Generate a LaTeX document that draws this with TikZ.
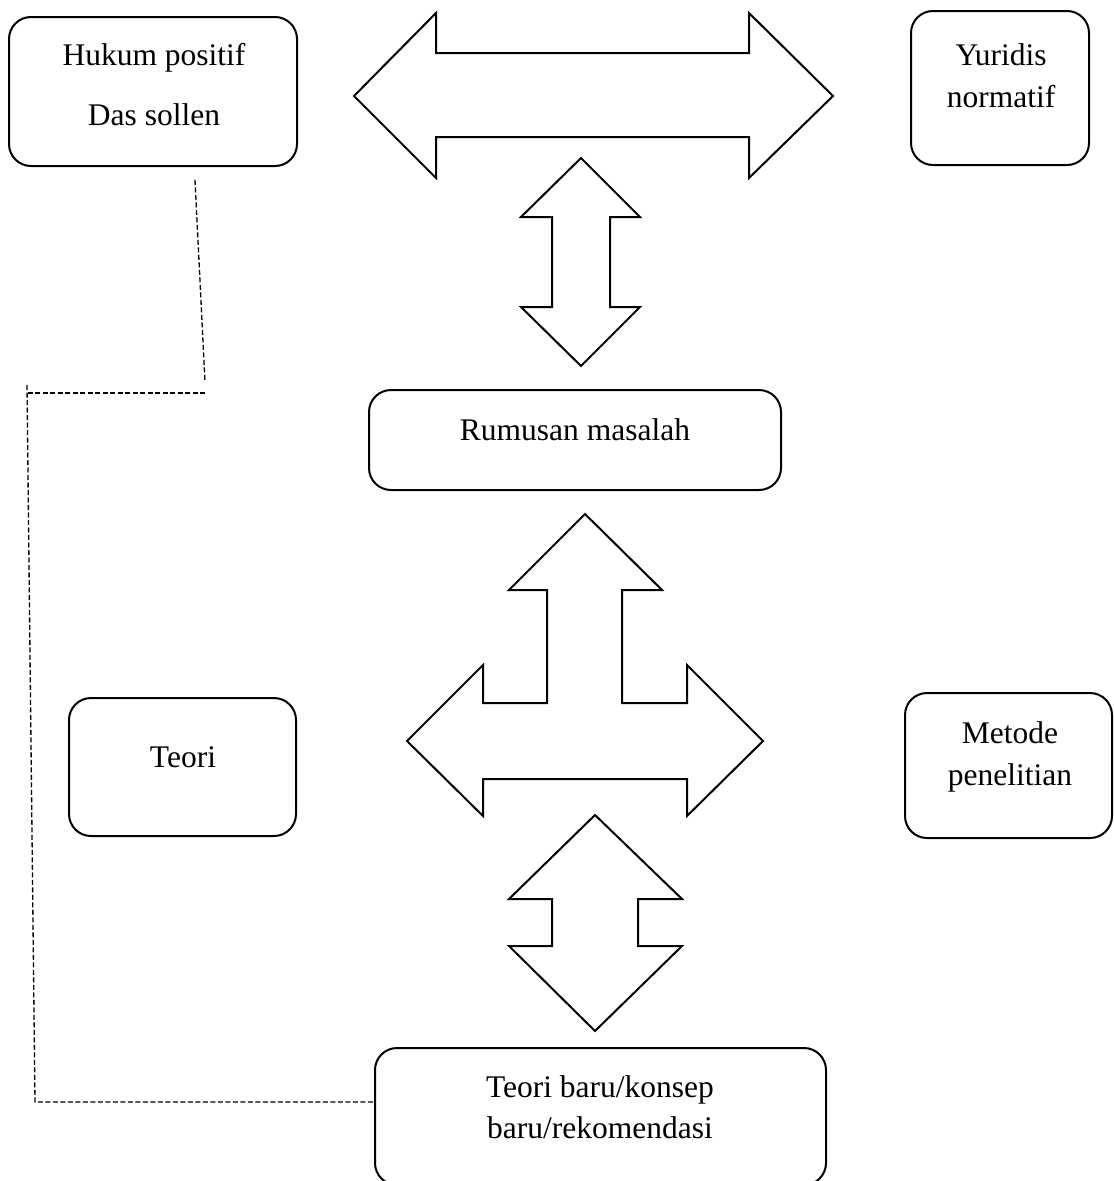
\documentclass[tikz,border=0pt]{standalone}
\usepackage{fontspec}
\setmainfont{Liberation Serif}
\usepackage{tikz}
\usetikzlibrary{calc}

\begin{document}
\begin{tikzpicture}[x=1pt,y=-1pt,line join=miter,
		box/.style={draw,line width=2pt,rounded corners=22pt,inner sep=0pt},
		blockarrow/.style={draw,line width=2pt,line join=miter},
		lbl/.style={font=\fontsize{31.5}{42}\selectfont,align=center,anchor=base,inner sep=0pt},
		guide/.style={line width=1.3pt,dash pattern=on 5pt off 2.5pt}]
			\useasboundingbox (0,0) rectangle (1114,1181);
			% boxes
			\node[box,minimum width=288pt,minimum height=149pt] (hukum) at (153,91.5) {};
			\node[box,minimum width=178pt,minimum height=154pt] (yuridis) at (1000,88) {};
			\node[box,minimum width=412pt,minimum height=100pt] (rumusan) at (575,440) {};
			\node[box,minimum width=227pt,minimum height=138pt] (teori) at (182.5,767) {};
			\node[box,minimum width=207pt,minimum height=145pt] (metode) at (1008.5,765.5) {};
			\node[box,minimum width=451pt,minimum height=137pt] (baru) at (600.5,1116.5) {};
			% texts (base = last line)
			\node[lbl,font=\fontsize{31.5}{60}\selectfont] (hukumtxt) at (154,125) {Hukum positif\\Das sollen};
			\node[lbl] (yuridistxt) at (1001,107) {Yuridis\\normatif};
			\node[lbl] (rumusantxt) at (575,440) {Rumusan masalah};
			\node[lbl] (teoritxt) at (183,767) {Teori};
			\node[lbl] (metodetxt) at (1010,785) {Metode\\penelitian};
			\node[lbl,font=\fontsize{31.5}{41}\selectfont] (barutxt) at (600,1138) {Teori baru/konsep\\baru/rekomendasi};
			% block arrows
			\draw[blockarrow] (354,96) -- (436,13) -- (436,53) -- (749,53) -- (749,13) -- (833,96)
				-- (749,178) -- (749,137) -- (436,137) -- (436,178) -- cycle;
			\draw[blockarrow] (581,158) -- (640,217) -- (610,217) -- (610,307) -- (640,307) -- (581,366)
				-- (521,307) -- (552,307) -- (552,217) -- (521,217) -- cycle;
			\draw[blockarrow] (585,514) -- (662,590) -- (622,590) -- (622,703) -- (687,703) -- (687,665)
				-- (763,741) -- (687,816) -- (687,779) -- (483,779) -- (483,816) -- (407,741)
				-- (483,665) -- (483,703) -- (547,703) -- (547,590) -- (509,590) -- cycle;
			\draw[blockarrow] (595,815) -- (682,899) -- (638,899) -- (638,946) -- (682,946) -- (595,1031)
				-- (509,946) -- (552,946) -- (552,899) -- (509,899) -- cycle;
			% dashed guide
			\coordinate (g1) at (195,180);
			\coordinate (g2) at (205,382);
			\coordinate (g3) at (205,393);
			\coordinate (g4) at (27,393);
			\coordinate (g5) at (27,385);
			\coordinate (g6) at (35,1102);
			\draw[guide] (g1) -- (g2);
			\draw[guide] (g3) -- (g4);
			\draw[guide] (g5) -- (g6) -- (g6 -| baru.west);
\end{tikzpicture}
\end{document}
